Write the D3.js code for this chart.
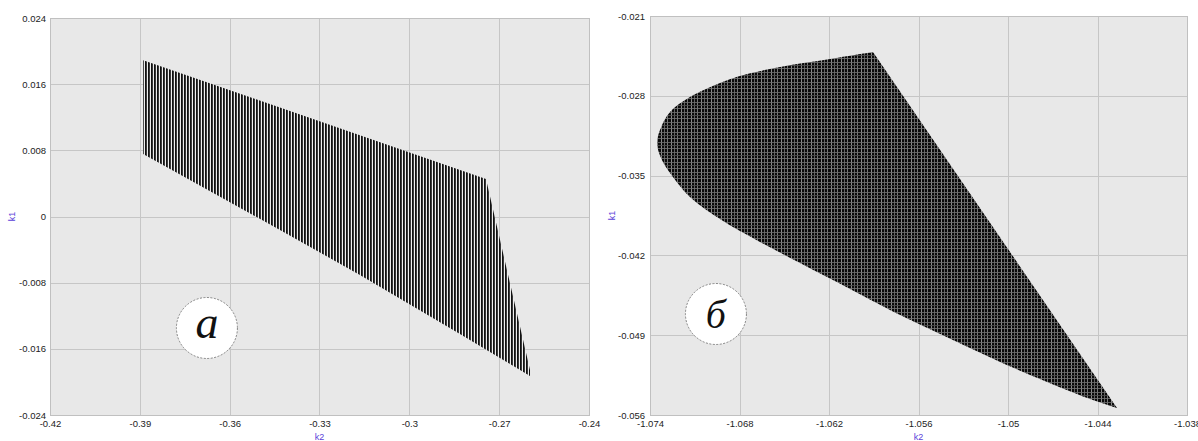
<!DOCTYPE html>
<html>
<head>
<meta charset="utf-8">
<script src="https://cdn.jsdelivr.net/npm/d3@7"></script>
<style>
  html, body { margin: 0; padding: 0; background: #ffffff; }
  svg { display: block; font-family: "Liberation Sans", Arial, sans-serif; }
</style>
</head>
<body>
<svg id="chart" width="1198" height="441"></svg>
<script>
// ---- Panel а: stability region in the (k2, k1) plane ----
const aTicksK2 = [-0.42, -0.39, -0.36, -0.33, -0.3, -0.27, -0.24];
const aTickLabelsK2 = ["-0.42", "-0.39", "-0.36", "-0.33", "-0.3", "-0.27", "-0.24"];
const aTicksK1 = [-0.024, -0.016, -0.008, 0, 0.008, 0.016, 0.024];
const aTickLabelsK1 = ["-0.024", "-0.016", "-0.008", "0", "0.008", "0.016", "0.024"];
// boundary of the scanned region (k2, k1), clockwise from the upper-left corner
const aBoundaryK2 = [-0.3889, -0.2744, -0.2597, -0.2597, -0.2831, -0.3165, -0.3432, -0.3889];
const aBoundaryK1 = [0.0189, 0.00453, -0.01856, -0.01928, -0.01421, -0.00707, -0.00163, 0.00756];
const aScanStep = 0.001;          // k2 step between scan lines
const aLabelK2 = -0.3676, aLabelK1 = -0.01348;

// ---- Panel б ----
const bTicksK2 = [-1.074, -1.068, -1.062, -1.056, -1.05, -1.044, -1.038];
const bTickLabelsK2 = ["-1.074", "-1.068", "-1.062", "-1.056", "-1.05", "-1.044", "-1.038"];
const bTicksK1 = [-0.056, -0.049, -0.042, -0.035, -0.028, -0.021];
const bTickLabelsK1 = ["-0.056", "-0.049", "-0.042", "-0.035", "-0.028", "-0.021"];
// boundary: from the lower tip along the lower edge, round the left curve, along the
// upper curve to the top vertex; the right edge is the straight segment closing it
const bBoundaryK2 = [-1.04269, -1.04450, -1.04899, -1.05255, -1.05597, -1.05791, -1.06059,
                     -1.06394, -1.06663, -1.06931, -1.07132, -1.07246, -1.07320, -1.07353,
                     -1.07333, -1.07266, -1.07132, -1.06931, -1.06797, -1.06528, -1.06193, -1.05905];
const bBoundaryK1 = [-0.05539, -0.05460, -0.05223, -0.05012, -0.04802, -0.04679, -0.04495,
                     -0.04267, -0.04082, -0.03881, -0.03688, -0.03512, -0.03363, -0.03220,
                     -0.03100, -0.02942, -0.02811, -0.02688, -0.02626, -0.02547, -0.02477, -0.02416];
const bLabelK2 = -1.06958, bLabelK1 = -0.04714;

const svg = d3.select("#chart");
const defs = svg.append("defs");

function drawPanel(p) {
  const x = d3.scaleLinear().domain([p.ticksX[0], p.ticksX[p.ticksX.length - 1]]).range([p.left, p.right]);
  const y = d3.scaleLinear().domain([p.ticksY[0], p.ticksY[p.ticksY.length - 1]]).range([p.bottom, p.top]);
  const g = svg.append("g");

  g.append("rect")
    .attr("x", p.left).attr("y", p.top)
    .attr("width", p.right - p.left).attr("height", p.bottom - p.top)
    .attr("fill", "#e8e8e8");

  // grid
  g.append("g").selectAll("line").data(p.ticksX.slice(1, -1)).join("line")
    .attr("x1", d => Math.round(x(d)) + 0.5).attr("x2", d => Math.round(x(d)) + 0.5)
    .attr("y1", p.top).attr("y2", p.bottom)
    .attr("stroke", "#c6c6c6").attr("stroke-width", 1);
  g.append("g").selectAll("line").data(p.ticksY.slice(1, -1)).join("line")
    .attr("y1", d => Math.round(y(d)) + 0.5).attr("y2", d => Math.round(y(d)) + 0.5)
    .attr("x1", p.left).attr("x2", p.right)
    .attr("stroke", "#c6c6c6").attr("stroke-width", 1);

  // region
  const pts = p.bx.map((v, i) => [x(v), y(p.by[i])]);
  const path = p.smooth
    ? d3.line().curve(d3.curveCatmullRom.alpha(0.5))(pts) + "Z"
    : d3.line().curve(d3.curveLinearClosed)(pts);
  g.append("path").attr("d", path).attr("fill", p.fill(x, y));

  // frame
  g.append("rect")
    .attr("x", p.left + 0.5).attr("y", p.top + 0.5)
    .attr("width", p.right - p.left).attr("height", p.bottom - p.top)
    .attr("fill", "none").attr("stroke", "#c0c0c0");

  // axes
  const xAxis = d3.axisBottom(x).tickValues(p.ticksX).tickSize(0).tickPadding(5)
    .tickFormat((d, i) => p.labelsX[i]);
  const gx = g.append("g").attr("transform", `translate(0,${p.bottom})`).call(xAxis);
  const yAxis = d3.axisLeft(y).tickValues(p.ticksY).tickSize(0).tickPadding(p.yPad)
    .tickFormat((d, i) => p.labelsY[i]);
  const gy = g.append("g").attr("transform", `translate(${p.left},0)`).call(yAxis);
  [gx, gy].forEach(a => {
    a.select(".domain").remove();
    a.selectAll("text").attr("font-size", 9.5).attr("fill", "#222")
      .attr("font-family", "'Liberation Sans', Arial, sans-serif");
  });

  // axis titles
  g.append("text").text("k2")
    .attr("x", (p.left + p.right) / 2).attr("y", 440)
    .attr("text-anchor", "middle").attr("font-size", 9).attr("fill", "#5b3fd9");
  g.append("text").text("k1")
    .attr("transform", `translate(${p.left - 35},${(p.top + p.bottom) / 2}) rotate(-90)`)
    .attr("text-anchor", "middle").attr("font-size", 9).attr("fill", "#5b3fd9");

  // panel letter in a circle
  const cx = x(p.labelK2), cy = y(p.labelK1);
  g.append("circle").attr("cx", cx).attr("cy", cy).attr("r", 30.5)
    .attr("fill", "#ffffff").attr("stroke", "#777").attr("stroke-width", 0.9)
    .attr("stroke-dasharray", "2,1.5");
  g.append("text").text(p.letter)
    .attr("x", cx).attr("y", cy + p.letterDy)
    .attr("text-anchor", "middle")
    .attr("font-family", "'Liberation Serif', 'DejaVu Serif', serif")
    .attr("font-style", "italic").attr("font-size", p.letterSize).attr("fill", "#111");
}

// vertical scan-line texture for panel а
function stripeFill(x, y) {
  const w = Math.round(x(aBoundaryK2[0] + aScanStep) - x(aBoundaryK2[0]));
  const pat = defs.append("pattern").attr("id", "scanA")
    .attr("patternUnits", "userSpaceOnUse")
    .attr("x", Math.round(x(aBoundaryK2[0])) - 1).attr("y", 0)
    .attr("width", w).attr("height", 4);
  pat.append("rect").attr("x", 0).attr("y", 0).attr("width", w).attr("height", 4).attr("fill", "#eeeeee");
  pat.append("rect").attr("x", 0).attr("y", 0).attr("width", 1).attr("height", 4).attr("fill", "#111111");
  pat.append("rect").attr("x", 1).attr("y", 0).attr("width", 1).attr("height", 4).attr("fill", "#3a3a3a");
  return "url(#scanA)";
}

// dense plaid texture for panel б (scan grid with beat bands)
function gridFill(x, y) {
  const n = 10;
  const pat = defs.append("pattern").attr("id", "scanB")
    .attr("patternUnits", "userSpaceOnUse")
    .attr("x", 0).attr("y", 0).attr("width", n).attr("height", n);
  pat.append("rect").attr("width", n).attr("height", n).attr("fill", "#0a0a0a");
  const cols = [[1, "#8a8a8a"], [4, "#626262"], [7, "#787878"]];
  const rows = [[2, "#6e6e6e"], [5, "#505050"], [8, "#747474"]];
  cols.forEach(([c, col]) => pat.append("rect").attr("x", c).attr("y", 0)
    .attr("width", 1).attr("height", n).attr("fill", col));
  rows.forEach(([r, col]) => pat.append("rect").attr("x", 0).attr("y", r)
    .attr("width", n).attr("height", 1).attr("fill", col).attr("opacity", 0.85));
  return "url(#scanB)";
}

drawPanel({
  left: 50, right: 589, top: 18, bottom: 415, yPad: 4,
  ticksX: aTicksK2, labelsX: aTickLabelsK2, ticksY: aTicksK1, labelsY: aTickLabelsK1,
  bx: aBoundaryK2, by: aBoundaryK1, fill: stripeFill, smooth: false,
  labelK2: aLabelK2, labelK1: aLabelK1, letter: "а", letterSize: 46, letterDy: 10
});

drawPanel({
  left: 650, right: 1187, top: 16, bottom: 415, yPad: 5,
  ticksX: bTicksK2, labelsX: bTickLabelsK2, ticksY: bTicksK1, labelsY: bTickLabelsK1,
  bx: bBoundaryK2, by: bBoundaryK1, fill: gridFill, smooth: true,
  labelK2: bLabelK2, labelK1: bLabelK1, letter: "б", letterSize: 40, letterDy: 14
});
</script>
</body>
</html>
